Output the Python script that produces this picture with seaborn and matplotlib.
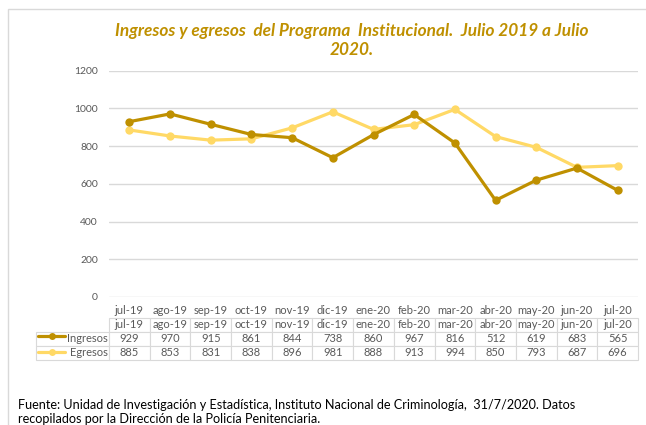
import pandas as pd
import matplotlib
matplotlib.use("Agg")
import matplotlib.pyplot as plt
from matplotlib.lines import Line2D
from matplotlib.patches import Rectangle
import seaborn as sns

meses = ["jul-19", "ago-19", "sep-19", "oct-19", "nov-19", "dic-19", "ene-20",
         "feb-20", "mar-20", "abr-20", "may-20", "jun-20", "jul-20"]
ingresos = [929, 970, 915, 861, 844, 738, 860, 967, 816, 512, 619, 683, 565]
egresos = [885, 853, 831, 838, 896, 981, 888, 913, 994, 850, 793, 687, 696]
series = ["Ingresos", "Egresos"]
colores = {"Ingresos": "#BF9000", "Egresos": "#FFD966"}
y_ticks = [0, 200, 400, 600, 800, 1000, 1200]

df = pd.DataFrame({
    "mes": meses * 2,
    "valor": ingresos + egresos,
    "serie": ["Ingresos"] * len(meses) + ["Egresos"] * len(meses),
})

sns.set_style("white")
plt.rcParams["font.family"] = ["Lato", "DejaVu Sans"]

W, H = 646, 425
fig = plt.figure(figsize=(W / 100, H / 100), dpi=100)

# chart border
fig.add_artist(Rectangle((8 / W, -0.1), 1.2, 1 - 9 / H + 0.1, transform=fig.transFigure,
                         fill=False, edgecolor="#D9D9D9", linewidth=1))

ax_l, ax_r, ax_t, ax_b = 109, 638, 70.5, 297
ax = fig.add_axes([ax_l / W, 1 - ax_b / H, (ax_r - ax_l) / W, (ax_b - ax_t) / H])

# draw Egresos first so Ingresos lies on top
for s in ["Egresos", "Ingresos"]:
    sns.lineplot(data=df[df["serie"] == s], x="mes", y="valor", color=colores[s],
                 marker="o", markersize=6, markeredgewidth=0, linewidth=2.3,
                 sort=False, legend=False, ax=ax)

ax.set_xlim(-0.5, len(meses) - 0.5)
ax.set_ylim(0, 1200)
ax.set_yticks(y_ticks)
ax.set_yticklabels([str(v) for v in y_ticks], color="#595959", fontsize=7.5)
ax.tick_params(axis="y", length=0, pad=8)
ax.tick_params(axis="x", length=0, pad=6, labelsize=8, labelcolor="#595959")
ax.set_xlabel("")
ax.set_ylabel("")
ax.grid(axis="y", color="#D9D9D9", linewidth=1)
ax.set_axisbelow(True)
for sp in ax.spines.values():
    sp.set_visible(False)

# data table
ax_h = ax_b - ax_t
ax_w = ax_r - ax_l
t_left, t_top, t_bot = 36, 318, 360
cell_text = [[""] + meses,
             ["Ingresos"] + [str(v) for v in ingresos],
             ["Egresos"] + [str(v) for v in egresos]]
first_w = ax_l - t_left
col_w = [first_w] + [ax_w / len(meses)] * len(meses)
tab = ax.table(cellText=cell_text, colWidths=[c / sum(col_w) for c in col_w],
               cellLoc="center",
               bbox=[(t_left - ax_l) / ax_w, (ax_b - t_bot) / ax_h,
                     (ax_r - t_left) / ax_w, (t_bot - t_top) / ax_h])
tab.auto_set_font_size(False)
for (r, c), cell in tab.get_celld().items():
    cell.set_edgecolor("#D9D9D9")
    cell.set_linewidth(0.8)
    cell.get_text().set_fontsize(8)
    cell.get_text().set_color("#595959")
    if r == 0 and c == 0:
        cell.visible_edges = ""
    if c == 0 and r > 0:
        cell.get_text().set_ha("right")
        cell._loc = "right"
        cell.PAD = 0.02

# legend keys in the row label cells
row_mid = [336, 352]
for s, yy in zip(series, row_mid):
    fig.add_artist(Line2D([38 / W, 65 / W], [1 - yy / H] * 2, color=colores[s],
                          linewidth=2.3, transform=fig.transFigure))
    fig.add_artist(Line2D([51.5 / W], [1 - yy / H], color=colores[s], marker="o",
                          markersize=5, markeredgewidth=0, transform=fig.transFigure))

# title
fig.text(352 / W, 1 - 31 / H, "Ingresos y egresos  del Programa  Institucional.  Julio 2019 a Julio",
         ha="center", va="center", color="#BF9000", fontsize=12.4,
         fontweight="bold", fontstyle="italic")
fig.text(352 / W, 1 - 50 / H, "2020.", ha="center", va="center", color="#BF9000",
         fontsize=12.4, fontweight="bold", fontstyle="italic")

# source note
fig.text(18 / W, 1 - 405 / H,
         "Fuente: Unidad de Investigación y Estadística, Instituto Nacional de Criminología,  31/7/2020. Datos",
         ha="left", va="center", fontsize=9.1, color="#000000")
fig.text(18 / W, 1 - 419 / H, "recopilados por la Dirección de la Policía Penitenciaria.",
         ha="left", va="center", fontsize=9.1, color="#000000")

fig.savefig("out.png", dpi=100)
